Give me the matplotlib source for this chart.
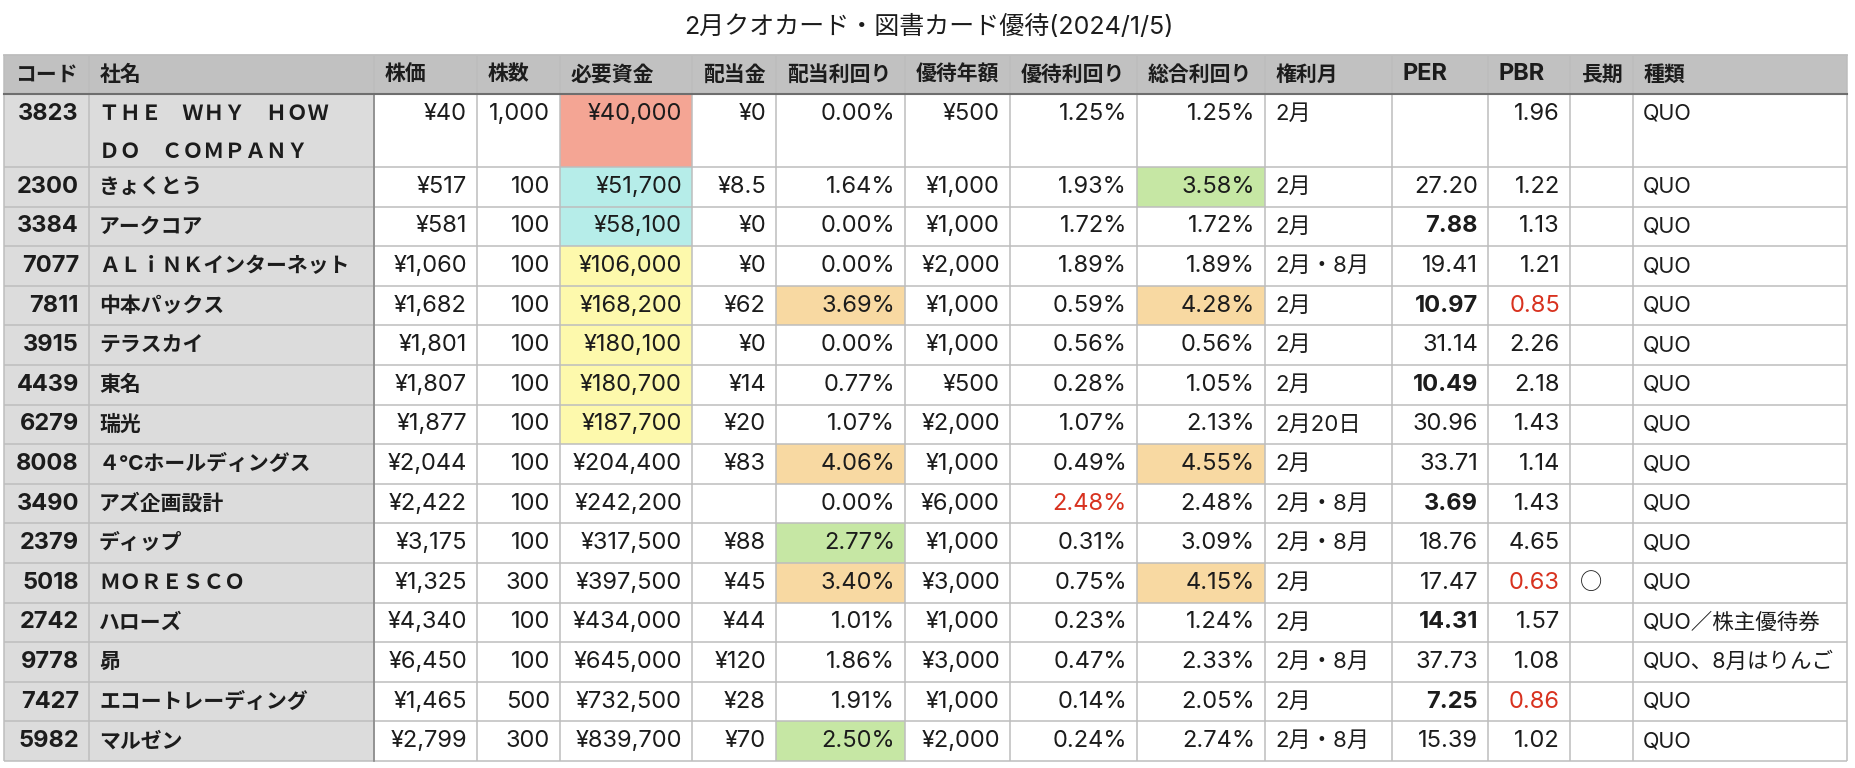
import matplotlib
matplotlib.use('Agg')
import matplotlib.pyplot as plt
from matplotlib.patches import Rectangle

plt.rcParams['font.family'] = ['Inter', 'Noto Sans CJK JP', 'DejaVu Sans']

title = '2月クオカード・図書カード優待(2024/1/5)'
headers = ['コード', '社名', '株価', '株数', '必要資金', '配当金', '配当利回り', '優待年額',
           '優待利回り', '総合利回り', '権利月', 'PER', 'PBR', '長期', '種類']

codes = ['3823', '2300', '3384', '7077', '7811', '3915', '4439', '6279',
         '8008', '3490', '2379', '5018', '2742', '9778', '7427', '5982']
names = ['ＴＨＥ　ＷＨＹ　ＨＯＷ　ＤＯ　ＣＯＭＰＡＮＹ', 'きょくとう', 'アークコア',
         'ＡＬｉＮＫインターネット', '中本パックス', 'テラスカイ', '東名', '瑞光',
         '４℃ホールディングス', 'アズ企画設計', 'ディップ', 'ＭＯＲＥＳＣＯ', 'ハローズ',
         '昴', 'エコートレーディング', 'マルゼン']
prices = [40, 517, 581, 1060, 1682, 1801, 1807, 1877, 2044, 2422, 3175, 1325, 4340, 6450, 1465, 2799]
shares = [1000, 100, 100, 100, 100, 100, 100, 100, 100, 100, 100, 300, 100, 100, 500, 300]
funds = [40000, 51700, 58100, 106000, 168200, 180100, 180700, 187700,
         204400, 242200, 317500, 397500, 434000, 645000, 732500, 839700]
dividends = [0, 8.5, 0, 0, 62, 0, 14, 20, 83, None, 88, 45, 44, 120, 28, 70]
div_yield = [0.00, 1.64, 0.00, 0.00, 3.69, 0.00, 0.77, 1.07, 4.06, 0.00, 2.77, 3.40, 1.01, 1.86, 1.91, 2.50]
benefit = [500, 1000, 1000, 2000, 1000, 1000, 500, 2000, 1000, 6000, 1000, 3000, 1000, 3000, 1000, 2000]
ben_yield = [1.25, 1.93, 1.72, 1.89, 0.59, 0.56, 0.28, 1.07, 0.49, 2.48, 0.31, 0.75, 0.23, 0.47, 0.14, 0.24]
total_yield = [1.25, 3.58, 1.72, 1.89, 4.28, 0.56, 1.05, 2.13, 4.55, 2.48, 3.09, 4.15, 1.24, 2.33, 2.05, 2.74]
months = ['2月', '2月', '2月', '2月・8月', '2月', '2月', '2月', '2月20日',
          '2月', '2月・8月', '2月・8月', '2月', '2月', '2月・8月', '2月', '2月・8月']
per = [None, 27.20, 7.88, 19.41, 10.97, 31.14, 10.49, 30.96, 33.71, 3.69, 18.76, 17.47, 14.31, 37.73, 7.25, 15.39]
pbr = [1.96, 1.22, 1.13, 1.21, 0.85, 2.26, 2.18, 1.43, 1.14, 1.43, 4.65, 0.63, 1.57, 1.08, 0.86, 1.02]
longterm = ['', '', '', '', '', '', '', '', '', '', '', '○', '', '', '', '']
kinds = ['QUO'] * 12 + ['QUO／株主優待券', 'QUO、8月はりんご', 'QUO', 'QUO']

# layout (pixels)
col_edges = [4, 89, 374, 477, 560, 692, 776, 905, 1010, 1137, 1265, 1392, 1488, 1570, 1633, 1847]
aligns = ['right', 'left', 'right', 'right', 'right', 'right', 'right', 'right',
          'right', 'right', 'left', 'right', 'right', 'left', 'left']
sizes = [17, 15, 17, 17, 17, 17, 17, 17, 17, 17, 16, 17, 17, 16, 15.5]
head_sizes = [15] * 11 + [17, 17, 15, 15]
head_top, head_h = 55, 39
row_h, line_gap = 39.6, 38
pad = 10

C_HEAD = '#c1c1c1'
C_KEY = '#dcdcdc'
C_GRID = '#bdbdbd'
C_TEXT = '#1c1c1c'
C_RED = '#d8321f'
C_SALMON = '#f4a594'
C_CYAN = '#b6ede9'
C_YELLOW = '#fdf9ac'
C_ORANGE = '#f8d9a2'
C_GREEN = '#c6e7a4'
CJK = ['Noto Sans CJK JP', 'DejaVu Sans']


def yen(v):
    if v is None:
        return ''
    if float(v).is_integer():
        return '¥{:,}'.format(int(v))
    return '¥{}'.format(v)


def wrap(name, maxlen=11):
    parts = name.split('　')
    lines, cur = [], ''
    for p in parts:
        cand = p if cur == '' else cur + '　' + p
        if len(cand) > maxlen and cur != '':
            lines.append(cur)
            cur = p
        else:
            cur = cand
    lines.append(cur)
    return lines


def fund_fill(v):
    if v < 50000:
        return C_SALMON
    if v < 100000:
        return C_CYAN
    if v < 200000:
        return C_YELLOW
    return 'white'


def div_fill(v):
    if v >= 3:
        return C_ORANGE
    if v >= 2.5:
        return C_GREEN
    return 'white'


def total_fill(v):
    if v >= 4:
        return C_ORANGE
    if v >= 3.5:
        return C_GREEN
    return 'white'


fig = plt.figure(figsize=(18.56, 7.68), dpi=100)
ax = fig.add_axes([0, 0, 1, 1])
ax.set_xlim(0, 1856)
ax.set_ylim(768, 0)
ax.axis('off')

ax.text(929, 27, title, ha='center', va='center', fontsize=18, color=C_TEXT)

# header
x0, x1 = col_edges[0], col_edges[-1]
ax.add_patch(Rectangle((x0, head_top), x1 - x0, head_h, facecolor=C_HEAD, edgecolor='none'))
for j, h in enumerate(headers):
    ax.text(col_edges[j] + pad + 1, head_top + head_h / 2, h, ha='left', va='center',
            fontsize=head_sizes[j], fontweight='bold', color=C_TEXT)

y = head_top + head_h
row_tops = []
for i in range(len(codes)):
    name_lines = wrap(names[i])
    h = row_h + (len(name_lines) - 1) * (line_gap - 4.6)
    row_tops.append((y, h))

    cells = [codes[i], '', yen(prices[i]), '{:,}'.format(shares[i]), yen(funds[i]),
             yen(dividends[i]), '{:.2f}%'.format(div_yield[i]), yen(benefit[i]),
             '{:.2f}%'.format(ben_yield[i]), '{:.2f}%'.format(total_yield[i]), months[i],
             '' if per[i] is None else '{:.2f}'.format(per[i]), '{:.2f}'.format(pbr[i]),
             longterm[i], kinds[i]]
    fills = [C_KEY, C_KEY, 'white', 'white', fund_fill(funds[i]), 'white', div_fill(div_yield[i]),
             'white', 'white', total_fill(total_yield[i]), 'white', 'white', 'white', 'white', 'white']
    weights = ['bold', 'bold'] + ['normal'] * 13
    colors = [C_TEXT] * 15
    if per[i] is not None and per[i] < 15:
        weights[11] = 'bold'
    if pbr[i] < 1:
        colors[12] = C_RED
    if ben_yield[i] >= 2:
        colors[8] = C_RED

    for j in range(15):
        ax.add_patch(Rectangle((col_edges[j], y), col_edges[j + 1] - col_edges[j], h,
                               facecolor=fills[j], edgecolor='none'))
        if aligns[j] == 'right':
            tx, ha = col_edges[j + 1] - pad, 'right'
        else:
            tx, ha = col_edges[j] + pad, 'left'
        if j == 1:
            for k, ln in enumerate(name_lines):
                ax.text(tx, y + row_h / 2 + k * line_gap, ln, ha=ha, va='center',
                        fontsize=sizes[j], fontweight='bold', color=C_TEXT)
        elif j == 13:
            ax.text(tx, y + row_h / 2, cells[j], ha=ha, va='center', fontsize=sizes[j],
                    color=colors[j], family=CJK)
        else:
            ax.text(tx, y + row_h / 2, cells[j], ha=ha, va='center', fontsize=sizes[j],
                    fontweight=weights[j], color=colors[j])
    y += h

bottom = y

# grid
for (t, h) in row_tops:
    ax.plot([x0, x1], [t + h, t + h], color=C_GRID, lw=1.1, solid_capstyle='butt')
ax.plot([x0, x1], [head_top, head_top], color=C_GRID, lw=1.3)
for j, xe in enumerate(col_edges):
    ax.plot([xe, xe], [head_top, bottom], color=C_GRID, lw=1.1, solid_capstyle='butt')
ax.plot([col_edges[2], col_edges[2]], [head_top + head_h, bottom], color='#8a8a8a', lw=1.2)
ax.plot([x0, x1], [head_top + head_h, head_top + head_h], color='#6e6e6e', lw=1.5)

fig.savefig('out.png', dpi=100)
